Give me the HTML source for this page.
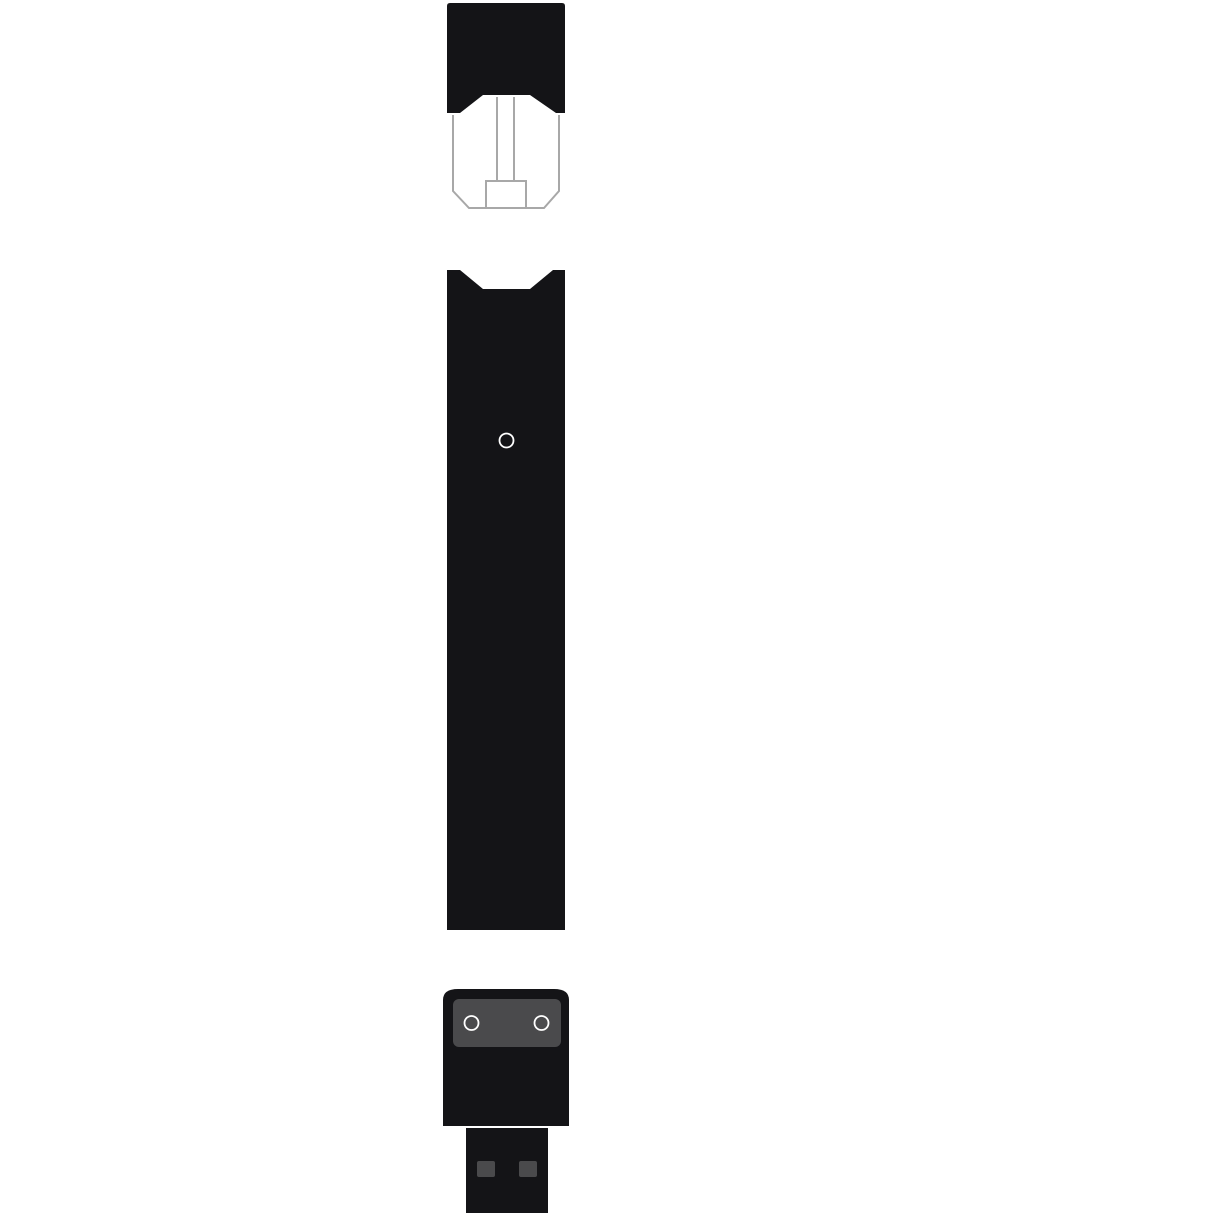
<!DOCTYPE html>
<html><head><meta charset="utf-8"><style>html,body{margin:0;padding:0;background:#fff}svg{display:block}</style></head>
<body>
<svg width="1216" height="1216" viewBox="0 0 1216 1216" xmlns="http://www.w3.org/2000/svg">
<!-- pod cap -->
<path d="M450 3 H562 Q565 3 565 6 V113 H556 L530 95 H483 L460 113 H447 V6 Q447 3 450 3 Z" fill="#141417"/>
<!-- pod outline -->
<g fill="none" stroke="#a8a8a8" stroke-width="2">
<path d="M453 115 V191 L469 208 H544 L559 191 V115"/>
<line x1="497" y1="97" x2="497" y2="181"/>
<line x1="514" y1="97" x2="514" y2="181"/>
<rect x="486" y="181" width="40" height="27"/>
</g>
<!-- battery -->
<path d="M447 270 H460 L483 289 H530 L553 270 H565 V930 H447 Z" fill="#141417"/>
<circle cx="506.5" cy="440.5" r="7" fill="none" stroke="#fff" stroke-width="1.8"/>
<!-- charger -->
<path d="M443 1000 Q443 989 458 989 H554 Q569 989 569 1000 V1126 H443 Z" fill="#141417"/>
<rect x="453" y="999" width="108" height="48" rx="6" fill="#4a4a4c"/>
<circle cx="471.5" cy="1023" r="7" fill="none" stroke="#fff" stroke-width="1.8"/>
<circle cx="541.5" cy="1023" r="7" fill="none" stroke="#fff" stroke-width="1.8"/>
<rect x="466" y="1128" width="82" height="85" fill="#141417"/>
<rect x="477" y="1161" width="18" height="16" rx="2" fill="#4a4a4c"/>
<rect x="519" y="1161" width="18" height="16" rx="2" fill="#4a4a4c"/>
</svg>
</body></html>
